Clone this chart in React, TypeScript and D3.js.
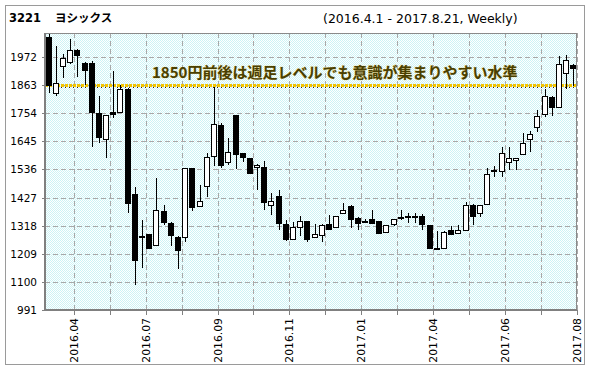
import React from 'react';
import * as d3 from 'd3';

// Weekly OHLC, 2016.4.1 - 2017.8.21
const opens = [2050,1832,1938,1953,2000,1949,1949,1754,1653,1758,1758,1847,1442,1277,1284,1244,1376,1330,1275,1274,1540,1393,1471,1589,1708,1564,1746,1599,1580,1544,1546,1400,1432,1326,1267,1311,1337,1275,1280,1323,1312,1367,1394,1349,1337,1345,1337,1293,1325,1351,1353,1353,1355,1319,1232,1232,1302,1291,1302,1400,1368,1403,1530,1531,1563,1572,1596,1654,1699,1751,1816,1780,1910,1942];
const highs = [2068,2016,1985,2040,2004,1951,1956,1821,1748,1919,1864,1850,1468,1339,1286,1501,1397,1332,1277,1540,1541,1475,1598,1855,1715,1657,1747,1600,1581,1558,1568,1446,1455,1341,1333,1354,1338,1326,1325,1361,1354,1407,1398,1350,1342,1380,1338,1322,1342,1380,1366,1366,1364,1320,1299,1299,1316,1319,1409,1401,1397,1540,1551,1622,1622,1580,1676,1686,1767,1847,1821,1977,1981,1943];
const lows = [1832,1821,1890,1945,1893,1864,1622,1640,1581,1734,1756,1368,1088,1153,1228,1242,1322,1241,1149,1254,1374,1391,1429,1550,1540,1553,1536,1563,1520,1456,1377,1361,1300,1258,1265,1276,1254,1272,1254,1302,1310,1366,1309,1302,1330,1330,1285,1292,1315,1341,1328,1328,1302,1232,1232,1232,1283,1290,1302,1322,1352,1402,1506,1507,1533,1533,1595,1605,1683,1738,1744,1779,1847,1858];
const closes = [1864,1871,1968,2000,1980,1920,1758,1660,1746,1752,1847,1407,1183,1274,1231,1380,1332,1283,1224,1540,1391,1414,1585,1711,1554,1602,1594,1583,1523,1553,1410,1414,1328,1265,1311,1336,1265,1284,1322,1305,1354,1380,1344,1330,1336,1330,1289,1322,1342,1353,1354,1354,1324,1232,1233,1294,1285,1300,1398,1355,1397,1520,1532,1601,1579,1579,1637,1672,1744,1821,1780,1946,1962,1929];

const yTicks = [991, 1100, 1209, 1318, 1427, 1536, 1645, 1754, 1863, 1972];
const gridIdx = [3, 8, 13, 18, 23, 28, 33, 38, 43, 48, 53, 58, 63, 68, 73];
const xTickIdx = [3, 13, 23, 33, 43, 53, 63, 73];
const xTickLabels = ['2016.04', '2016.07', '2016.09', '2016.11', '2017.01', '2017.04', '2017.06', '2017.08'];

const levelValue = 1860;
const titleCode = '3221';
const titleName = 'ヨシックス';
const subtitle = '(2016.4.1 - 2017.8.21, Weekly)';
const note = '1850円前後は週足レベルでも意識が集まりやすい水準';

export default function App() {
  const W = 590, H = 371;
  const left = 45, right = 577, top = 33, bottom = 310;
  const x = d3.scaleBand<number>().domain(d3.range(opens.length)).range([left, right]).padding(0);
  const y = d3.scaleLinear().domain([991, 2065]).range([bottom, top]);
  const bw = x.bandwidth();
  const font = "'DejaVu Sans', 'Noto Sans CJK JP', sans-serif";
  const ly = Math.round(y(levelValue));

  return (
    <svg width={W} height={H} style={{ position: 'absolute', left: 0, top: 0, background: '#fff' }}>
      <defs>
        <pattern id="dots" width="2" height="2" patternUnits="userSpaceOnUse">
          <rect width="2" height="2" fill="#ffffff" />
          <rect x="0" y="0" width="1" height="1" fill="#ccf3f5" />
          <rect x="1" y="1" width="1" height="1" fill="#ccf3f5" />
        </pattern>
        <clipPath id="plotclip">
          <rect x={left} y={top} width={right - left} height={bottom - top} />
        </clipPath>
      </defs>
      <rect x={0} y={0} width={W} height={H} fill="#fff" />
      <rect x={5.5} y={5.5} width={579} height={359} fill="none" stroke="#9a9a9a" strokeWidth={1} />

      <text x={9} y={22} fontFamily={font} fontWeight="bold" fontSize={11.5} fill="#000">{titleCode}</text>
      <text x={55} y={22} fontFamily={font} fontWeight="bold" fontSize={11.5} fill="#000">{titleName}</text>
      <text x={323} y={23} fontFamily={font} fontSize={12.5} fill="#000">{subtitle}</text>

      <rect x={left} y={top} width={right - left} height={bottom - top} fill="url(#dots)" />

      {yTicks.slice(1).map((t) => (
        <line key={'hg' + t} x1={left} x2={right} y1={Math.round(y(t)) + 0.5} y2={Math.round(y(t)) + 0.5}
          stroke="#a8a8a8" strokeWidth={1} strokeDasharray="5,3" shapeRendering="crispEdges" />
      ))}
      {gridIdx.map((i) => {
        const gx = Math.round((x(i) as number) + bw) + 0.5;
        return (
          <line key={'vg' + i} x1={gx} x2={gx} y1={top} y2={bottom}
            stroke="#a8a8a8" strokeWidth={1} strokeDasharray="5,3" shapeRendering="crispEdges" />
        );
      })}

      <g clipPath="url(#plotclip)">
        <line x1={left} x2={right} y1={ly - 0.5} y2={ly - 0.5} stroke="#f3c400" strokeWidth={3} strokeDasharray="3,1" />
        <line x1={left} x2={right} y1={ly + 1.5} y2={ly + 1.5} stroke="#222" strokeWidth={1} strokeDasharray="1,3" shapeRendering="crispEdges" />
        {opens.map((o, i) => {
          const c = closes[i];
          const cx = Math.round((x(i) as number) + bw / 2);
          const yTop = Math.round(y(Math.max(o, c))) + 0.5;
          const yBot = Math.round(y(Math.min(o, c))) + 0.5;
          const h = Math.max(1, yBot - yTop);
          const up = c >= o;
          return (
            <g key={i}>
              <line x1={cx + 0.5} x2={cx + 0.5} y1={Math.round(y(highs[i]))} y2={Math.round(y(lows[i]))}
                stroke="#000" strokeWidth={1} shapeRendering="crispEdges" />
              <rect x={cx - 2.5} y={yTop} width={5} height={h} fill={up ? '#fff' : '#000'} stroke="#000"
                strokeWidth={1} shapeRendering="crispEdges" />
            </g>
          );
        })}
      </g>

      <text x={152} y={78} fontFamily="'Noto Sans CJK JP', sans-serif" fontWeight="bold" fontSize={15}
        fill="#4a3f00" stroke="#e8d890" strokeWidth={0.6} paintOrder="stroke">{note}</text>

      <rect x={left + 0.5} y={top + 0.5} width={right - left - 1} height={bottom - top - 1} fill="none" stroke="#8a8a8a" strokeWidth={1} shapeRendering="crispEdges" />
      <line x1={left} x2={left} y1={top} y2={bottom + 1} stroke="#808080" strokeWidth={2} shapeRendering="crispEdges" />
      <line x1={left - 1} x2={right} y1={bottom} y2={bottom} stroke="#808080" strokeWidth={2} shapeRendering="crispEdges" />

      {yTicks.map((t) => (
        <g key={'yt' + t}>
          <line x1={left - 3} x2={left} y1={Math.round(y(t)) + 0.5} y2={Math.round(y(t)) + 0.5} stroke="#808080" shapeRendering="crispEdges" />
          <text x={37} y={Math.round(y(t)) + 4} textAnchor="end" fontFamily={font} fontSize={10.5} fill="#000">{t}</text>
        </g>
      ))}
      {gridIdx.map((i) => {
        const gx = Math.round((x(i) as number) + bw) + 0.5;
        return <line key={'xt' + i} x1={gx} x2={gx} y1={bottom} y2={bottom + 5} stroke="#808080" shapeRendering="crispEdges" />;
      })}
      {xTickIdx.map((i, k) => {
        const gx = Math.round((x(i) as number) + bw);
        return (
          <text key={'xl' + i} transform={`translate(${gx + 3.5},${318}) rotate(-90)`} textAnchor="end"
            fontFamily={font} fontSize={10.8} fill="#000">{xTickLabels[k]}</text>
        );
      })}
    </svg>
  );
}
